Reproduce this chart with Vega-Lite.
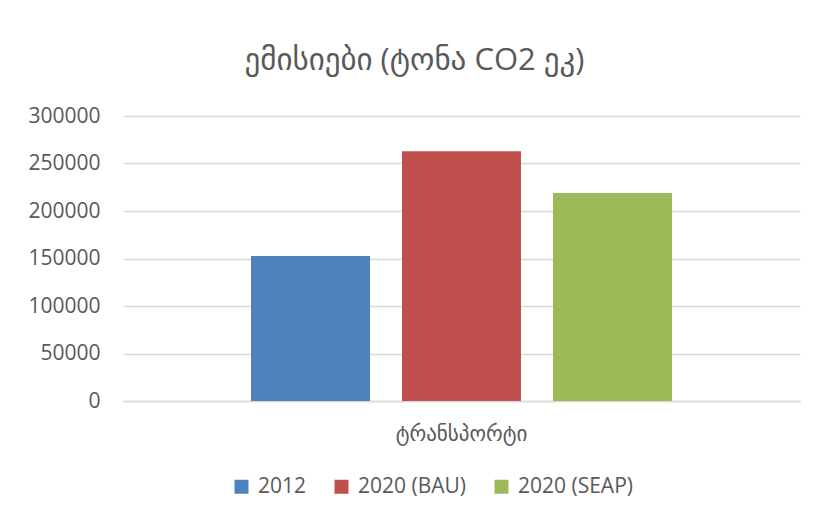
{
  "$schema": "https://vega.github.io/schema/vega-lite/v6.json",
  "autosize": "none",
  "width": 677,
  "height": 285,
  "padding": {"left": 123, "top": 116, "right": 17, "bottom": 118},
  "background": "white",
  "title": {
    "text": "ემისიები (ტონა CO2 ეკ)",
    "font": "Open Sans, DejaVu Sans",
    "fontSize": 31,
    "fontWeight": "normal",
    "color": "#595959",
    "anchor": "middle",
    "dx": -47,
    "offset": 28
  },
  "data": {
    "values": [
      {"category": "ტრანსპორტი", "series": "2012", "value": 152600},
      {"category": "ტრანსპორტი", "series": "2020 (BAU)", "value": 263000},
      {"category": "ტრანსპორტი", "series": "2020 (SEAP)", "value": 219000}
    ]
  },
  "mark": {"type": "bar"},
  "encoding": {
    "x": {
      "field": "category",
      "type": "nominal",
      "scale": {"paddingInner": 0, "paddingOuter": 0},
      "axis": {
        "title": null,
        "labelAngle": 0,
        "labelFontSize": 21,
        "labelFont": "Open Sans, DejaVu Sans",
        "labelColor": "#595959",
        "labelPadding": 22,
        "ticks": false,
        "domainColor": "#D9D9D9",
        "domainWidth": 1.5
      }
    },
    "xOffset": {
      "field": "series",
      "type": "nominal",
      "scale": {"paddingInner": 0.212, "paddingOuter": 0.848}
    },
    "y": {
      "field": "value",
      "type": "quantitative",
      "scale": {"domain": [0, 300000]},
      "axis": {
        "title": null,
        "values": [0, 50000, 100000, 150000, 200000, 250000, 300000],
        "format": "d",
        "domain": false,
        "ticks": false,
        "labelFontSize": 21,
        "labelFont": "Open Sans, DejaVu Sans",
        "labelColor": "#595959",
        "labelPadding": 23,
        "gridColor": "#D9D9D9",
        "gridWidth": 1.5
      }
    },
    "color": {
      "field": "series",
      "type": "nominal",
      "scale": {
        "domain": ["2012", "2020 (BAU)", "2020 (SEAP)"],
        "range": ["#4F81BD", "#C0504D", "#9BBB59"]
      },
      "legend": {
        "title": null,
        "orient": "none",
        "direction": "horizontal",
        "legendX": 108,
        "legendY": 360,
        "symbolType": "square",
        "symbolSize": 196,
        "symbolStrokeWidth": 0,
        "labelFontSize": 21,
        "labelFont": "Open Sans, DejaVu Sans",
        "labelColor": "#595959",
        "labelOffset": 6,
        "columnPadding": 24
      }
    }
  },
  "config": {
    "view": {"stroke": null}
  }
}
